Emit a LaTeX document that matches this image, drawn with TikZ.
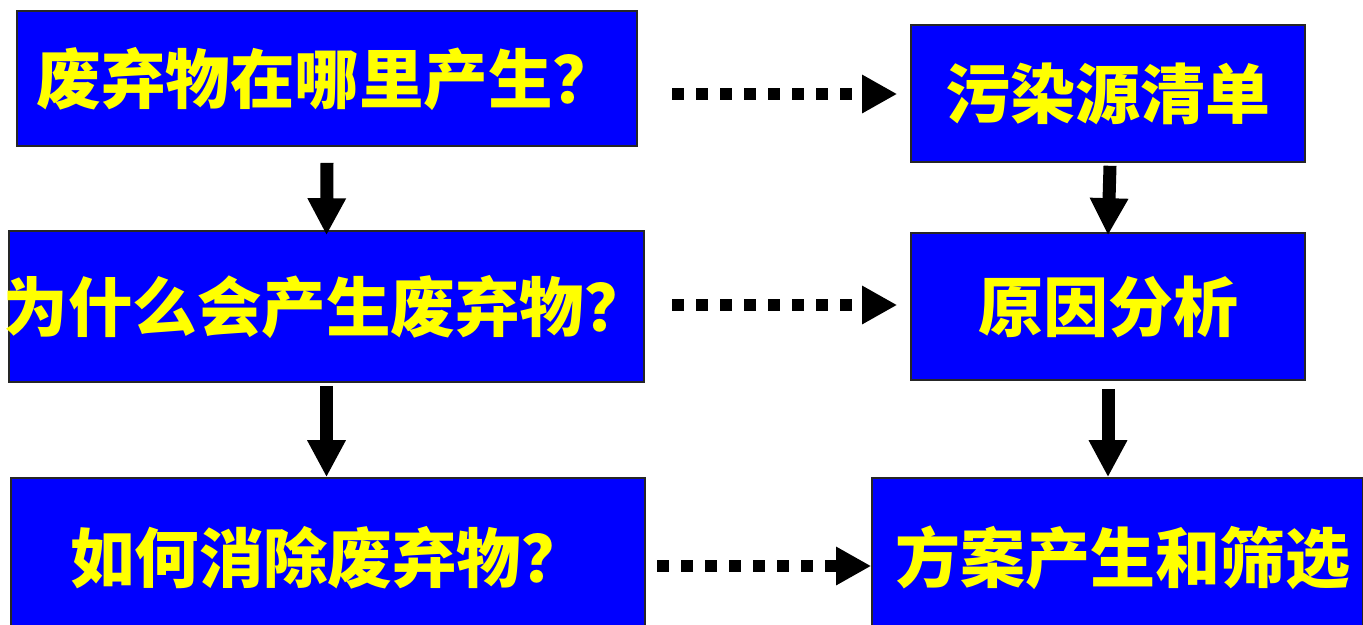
\documentclass[tikz,border=0pt]{standalone}
\usepackage{fontspec}
\setmainfont{Noto Sans CJK SC}
\usetikzlibrary{arrows.meta}
\definecolor{boxblue}{RGB}{0,0,255}
\definecolor{txtyellow}{RGB}{255,255,0}
\tikzset{
  qbox/.style={draw=black!85, line width=1.6pt, fill=boxblue, text=txtyellow,
    inner sep=0pt, font=\fontsize{64.5}{64.5}\selectfont\bfseries},
  abox/.style={qbox, font=\fontsize{65}{65}\selectfont\bfseries},
  varrow/.style={line width=13pt, -{Triangle[length=37pt,width=36pt]}},
  harrow/.style={line width=12pt, dash pattern=on 12pt off 12pt,
    -{Triangle[length=35pt,width=36pt]}}
}
\begin{document}
\begin{tikzpicture}[x=1pt,y=-1pt]
\clip (0,0) rectangle (1363,624);
\fill[white] (0,0) rectangle (1363,624);
% left boxes
\node[qbox, minimum width=620pt, minimum height=135pt] (a) at (327,78.5) {废弃物在哪里产生？};
\node[qbox, minimum width=635pt, minimum height=151pt] (c) at (326.5,306.5) {\makebox[600pt]{为什么会产生废弃物？}};
\node[qbox, minimum width=634pt, minimum height=160pt] (e) at (328,558) {\raisebox{5pt}{如何消除废弃物？}};
% right boxes
\node[abox, minimum width=394pt, minimum height=137pt] (b) at (1108,93.5) {污染源清单};
\node[abox, minimum width=394pt, minimum height=147pt] (d) at (1108,306.5) {原因分析};
\node[abox, minimum width=491pt, minimum height=160pt] (f) at (1117.5,558) {\raisebox{4pt}{\hspace*{10pt}方案产生和筛选}};
% vertical arrows
\draw[varrow] ([yshift=-16pt]a.south) -- ([yshift=-5pt]c.north);
\draw[varrow] ([yshift=-3pt]c.south) -- (c.south |- e.north);
\draw[varrow] ([shift={(2pt,-3pt)}]b.south) -- ([yshift=-3pt]d.north);
\draw[varrow] ([yshift=-8pt]d.south) -- (d.south |- f.north);
% dotted horizontal arrows
\coordinate (s1) at (672,94);
\coordinate (s2) at (672,305);
\coordinate (s3) at (657,566);
\draw[harrow, shorten >=13pt] (s1) -- (s1 -| b.west);
\draw[harrow, shorten >=13pt] (s2) -- (s2 -| d.west);
\draw[harrow] (s3) -- (s3 -| f.west);
\end{tikzpicture}
\end{document}
